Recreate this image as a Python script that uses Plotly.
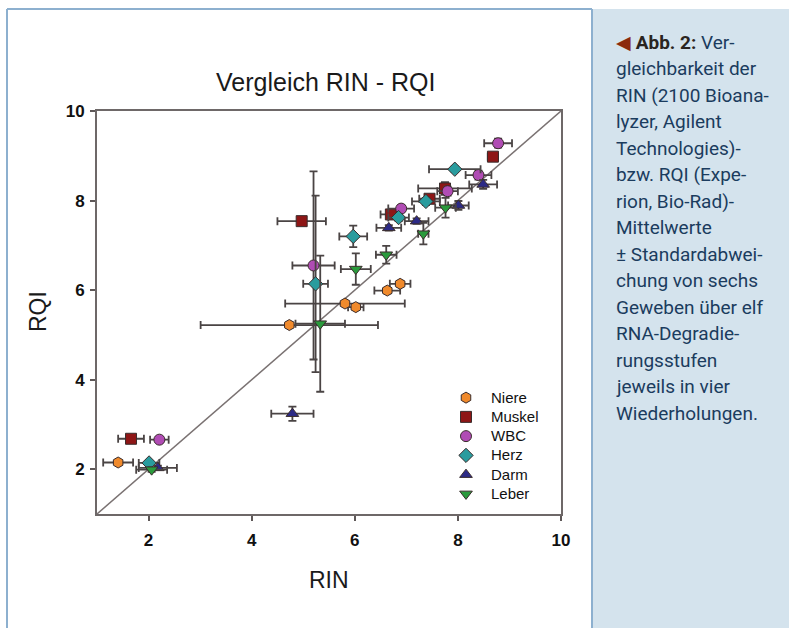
import plotly.graph_objects as go

# ---------------- data ----------------
series_names = ["Niere", "Muskel", "WBC", "Herz", "Darm", "Leber"]

niere_x = [1.41, 4.73, 5.81, 6.02, 6.63, 6.88]
niere_y = [2.15, 5.22, 5.70, 5.62, 5.99, 6.14]
niere_xerr = [0.29, 1.72, 1.16, 0.15, 0.25, 0.20]
niere_yerr = [0.05, 0.06, 0.05, 0.06, 0.06, 0.06]

muskel_x = [1.66, 4.97, 6.70, 7.45, 7.75, 8.68]
muskel_y = [2.68, 7.54, 7.69, 8.04, 8.27, 8.98]
muskel_xerr = [0.25, 0.47, 0.20, 0.20, 0.52, 0.10]
muskel_yerr = [0.05, 0.05, 0.08, 0.08, 0.14, 0.08]

wbc_x = [2.21, 5.20, 6.90, 7.80, 8.40, 8.78]
wbc_y = [2.66, 6.55, 7.82, 8.21, 8.57, 9.28]
wbc_xerr = [0.18, 0.41, 0.25, 0.20, 0.25, 0.27]
wbc_yerr = [0.06, 2.10, 0.08, 0.10, 0.10, 0.10]

herz_x = [2.01, 5.24, 5.97, 6.85, 7.38, 7.94]
herz_y = [2.14, 6.14, 7.20, 7.62, 7.98, 8.70]
herz_xerr = [0.20, 0.24, 0.27, 0.20, 0.27, 0.50]
herz_yerr = [0.05, 1.97, 0.24, 0.08, 0.08, 0.06]

darm_x = [2.18, 4.79, 6.66, 7.20, 8.01, 8.49]
darm_y = [2.03, 3.24, 7.39, 7.54, 7.89, 8.36]
darm_xerr = [0.37, 0.41, 0.24, 0.23, 0.20, 0.27]
darm_yerr = [0.05, 0.16, 0.06, 0.06, 0.10, 0.10]

leber_x = [2.06, 5.33, 6.02, 6.61, 7.33, 7.76]
leber_y = [1.99, 5.25, 6.47, 6.79, 7.26, 7.84]
leber_xerr = [0.30, 0.48, 0.29, 0.20, 0.10, 0.20]
leber_yerr = [0.05, 1.52, 0.35, 0.20, 0.24, 0.22]

tick_vals = [2, 4, 6, 8, 10]
tick_text = ["2", "4", "6", "8", "10"]
axis_range = [1, 10]

caption_lines = [
    "<span style='color:#8c2a0c'>◀</span> <b><span style='color:#2a2420'>Abb. 2:</span></b> Ver-",
    "gleichbarkeit der",
    "RIN (2100 Bioana-",
    "lyzer, Agilent",
    "Technologies)-",
    "bzw. RQI (Expe-",
    "rion, Bio-Rad)-",
    "Mittelwerte",
    "± Standardabwei-",
    "chung von sechs",
    "Geweben über elf",
    "RNA-Degradie-",
    "rungsstufen",
    "jeweils in vier",
    "Wiederholungen.",
]

# ---------------- layout geometry (pixels) ----------------
W, H = 789, 628
L, R, T, B = 97, 561, 111, 514  # plot area edges


def px(x):
    return (x - L) / (R - L)


def py(y):
    return (B - y) / (B - T)


styles = {
    "Niere": dict(symbol="hexagon", color="#f08a2c"),
    "Muskel": dict(symbol="square", color="#8e1616"),
    "WBC": dict(symbol="circle", color="#b04cb4"),
    "Herz": dict(symbol="diamond", color="#2a9c9e"),
    "Darm": dict(symbol="triangle-up", color="#2c2a86"),
    "Leber": dict(symbol="triangle-down", color="#2a9a3c"),
}

data = {
    "Niere": (niere_x, niere_y, niere_xerr, niere_yerr),
    "Muskel": (muskel_x, muskel_y, muskel_xerr, muskel_yerr),
    "WBC": (wbc_x, wbc_y, wbc_xerr, wbc_yerr),
    "Herz": (herz_x, herz_y, herz_xerr, herz_yerr),
    "Darm": (darm_x, darm_y, darm_xerr, darm_yerr),
    "Leber": (leber_x, leber_y, leber_xerr, leber_yerr),
}

fig = go.Figure()

# identity line
fig.add_trace(go.Scatter(x=axis_range, y=axis_range, mode="lines",
                         line=dict(color="#7a7272", width=1.5),
                         showlegend=False, hoverinfo="skip"))

err_col = "#4a4444"
for name in series_names:
    xs, ys, xe, ye = data[name]
    st = styles[name]
    fig.add_trace(go.Scatter(
        x=xs, y=ys, mode="markers",
        name="<span style='font-size:15px'>" + name + "</span>",
        marker=dict(symbol=st["symbol"], color=st["color"], size=11,
                    line=dict(color="#3a2c2c", width=1)),
        error_x=dict(type="data", array=xe, color=err_col, thickness=1.8, width=4),
        error_y=dict(type="data", array=ye, color=err_col, thickness=1.8, width=4),
    ))

axis_common = dict(range=axis_range, tickvals=tick_vals, ticktext=tick_text,
                   ticks="outside", ticklen=5, tickwidth=2, tickcolor="#5e5858",
                   showline=True, linecolor="#6e6868", linewidth=2, mirror=True,
                   showgrid=False, zeroline=False,
                   tickfont=dict(family="Arial, Liberation Sans", size=17,
                                 color="#111111", weight=700))

fig.update_layout(
    width=W, height=H, autosize=False,
    margin=dict(l=L, r=W - R, t=T, b=H - B, pad=0),
    paper_bgcolor="white", plot_bgcolor="white",
    xaxis=dict(axis_common, ticklabelstandoff=5),
    yaxis=dict(axis_common, ticklabelstandoff=2),
    showlegend=True,
    legend=dict(x=px(441), y=py(383), xanchor="left", yanchor="top",
                bgcolor="rgba(0,0,0,0)", borderwidth=0,
                font=dict(family="Arial, Liberation Sans", size=12.5, color="#111111"),
                tracegroupgap=0, itemwidth=40),
)

# frame and caption panel
fig.add_shape(type="rect", xref="paper", yref="paper",
              x0=px(592), x1=px(800), y0=py(9), y1=py(640),
              fillcolor="#d4e3ed", line=dict(width=0), layer="below")
for (x0, y0, x1, y1) in [(7, 9, 7, 640), (7, 9, 592, 9), (592, 9, 592, 640)]:
    fig.add_shape(type="line", xref="paper", yref="paper",
                  x0=px(x0), x1=px(x1), y0=py(y0), y1=py(y1),
                  line=dict(color="#8db0cf", width=2), layer="below")

# title and axis titles
fig.add_annotation(text="Vergleich RIN - RQI", xref="paper", yref="paper",
                   x=px(326), y=py(82), showarrow=False, xanchor="center", yanchor="middle",
                   font=dict(family="Arial, Liberation Sans", size=25, color="#1a1a1a"))
fig.add_annotation(text="RIN", xref="paper", yref="paper",
                   x=px(329), y=py(580), showarrow=False, xanchor="center", yanchor="middle",
                   font=dict(family="Arial, Liberation Sans", size=23, color="#1a1a1a"))
fig.add_annotation(text="RQI", xref="paper", yref="paper", textangle=-90,
                   x=px(38), y=py(312), showarrow=False, xanchor="center", yanchor="middle",
                   font=dict(family="Arial, Liberation Sans", size=23, color="#1a1a1a"))

# caption
for i, line in enumerate(caption_lines):
    fig.add_annotation(text=line, xref="paper", yref="paper",
                       x=px(614), y=py(42 + i * 26.5), showarrow=False,
                       xanchor="left", yanchor="middle", align="left",
                       font=dict(family="Roboto", size=19, color="#1b3c5e"))

fig.write_html("out.html")
